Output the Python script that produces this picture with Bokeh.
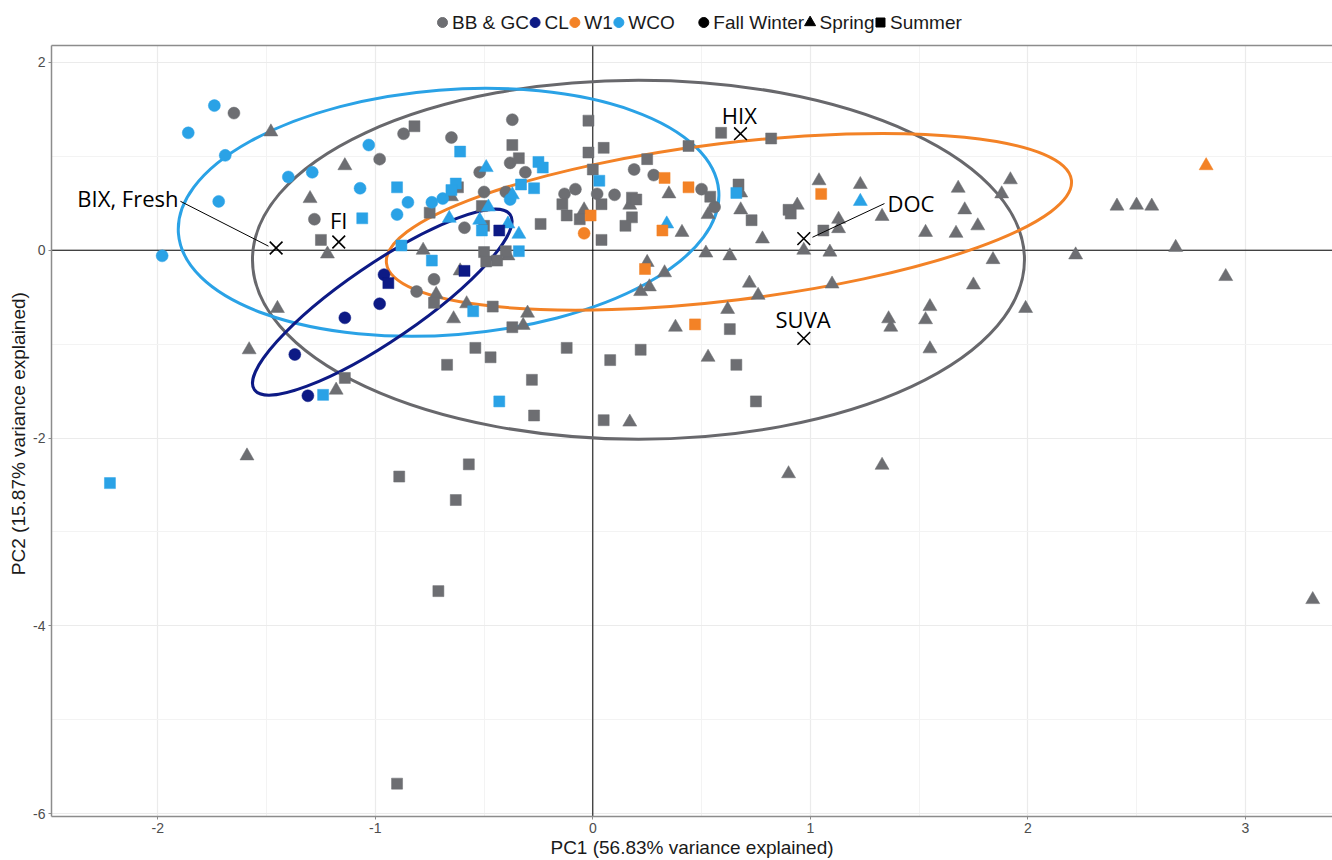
from bokeh.plotting import figure
from bokeh.layouts import column
from bokeh.models import (Span, FixedTicker, LinearAxis, Range1d, ColumnDataSource)
from bokeh.core.properties import value
from bokeh.embed import file_html
from bokeh.resources import INLINE

# ---------------- data ----------------
sites = ["BB & GC", "CL", "W1", "WCO"]
seasons = ["Fall Winter", "Spring", "Summer"]

# BB & GC
bbgc_fw_x = [-1.65, -0.87, -0.98, -1.28, -0.73, -0.81, -0.37, -0.65, -0.38, -0.52, -0.31,
             0.19, 0.28, -0.50, -0.40, -0.13, -0.08, 0.02, 0.10, -0.59, 0.50, 0.56]
bbgc_fw_y = [1.46, 1.24, 0.97, 0.33, -0.31, -0.44, 1.39, 1.20, 0.93, 0.83, 0.83,
             0.86, 0.80, 0.62, 0.62, 0.60, 0.65, 0.60, 0.59, 0.24, 0.65, 0.46]
bbgc_sp_x = [-1.48, -1.14, -1.30, -1.22, -0.78, -0.72, -1.45, -0.65, -0.04, 0.17, 0.35, 0.41,
             -0.61, -0.58, -0.64, -0.30, -0.32, -0.39, 0.25, 0.33, 0.22, 0.26, 0.38, 0.53,
             0.68, 0.68, 0.52, 0.63, 0.78, 1.04, 1.23, 0.94, 1.13, 1.13, 1.33, 0.97, 1.09,
             1.53, 1.68, 1.71, 1.67, 1.77, 1.92, 1.88, 1.84, 2.22, 0.72, 0.76, 1.10, 1.75,
             0.62, 1.36, 1.37, 1.55, 1.53, 1.99, 1.55, 0.53, 0.17, 0.90, 1.33, 2.41, 2.50,
             2.57, 2.68, 2.91, 3.31, -1.58, -1.18, -1.59]
bbgc_sp_y = [1.26, 0.90, 0.55, -0.04, 0.00, -0.47, -0.62, 0.57, 0.43, 0.48, 0.60, 0.19,
             -0.22, -0.57, -0.73, -0.67, -0.80, -0.06, -0.13, -0.24, -0.44, -0.39, -0.82, 0.38,
             0.43, 0.61, -0.03, -0.06, 0.12, 0.74, 0.70, 0.48, 0.33, 0.23, 0.36, 0.00, -0.02,
             0.19, 0.66, 0.43, 0.18, 0.26, 0.75, 0.60, -0.10, -0.05, -0.35, -0.48, -0.36, -0.37,
             -0.63, -0.73, -0.82, -0.60, -0.74, -0.62, -1.05, -1.14, -1.83, -2.38, -2.29, 0.47, 0.48,
             0.47, 0.03, -0.28, -3.72, -1.06, -1.49, -2.19]
bbgc_su_x = [-0.82, -0.75, -1.25, -0.73, -0.02, -0.37, 0.05, -0.02, -0.34, 0.00, 0.25, 0.44,
             -0.62, -0.14, -0.12, -0.06, 0.04, 0.18, 0.20, 0.18, 0.15, -0.51, -0.50, -0.24,
             0.04, -0.50, -0.40, -0.49, -0.44, -0.46, -0.37, 0.59, 0.82, 0.54, 0.67, 0.73,
             0.90, 0.91, 1.06, 0.63, 0.66, 0.75, 0.08, 0.22, 0.05, -1.14, -0.54, -0.47,
             -0.67, -0.12, -0.28, -0.27, -0.57, -0.89, -0.63, -0.71, -0.90]
bbgc_su_y = [1.32, 0.40, 0.11, -0.56, 1.38, 1.12, 1.09, 1.04, 0.98, 0.86, 0.97, 1.11,
             0.67, 0.49, 0.37, 0.33, 0.49, 0.56, 0.54, 0.35, 0.26, 0.47, 0.26, 0.28,
             0.11, -0.02, -0.01, -0.12, -0.11, -0.60, -0.82, 1.25, 1.19, 0.57, 0.70, 0.32,
             0.43, 0.39, 0.21, -0.84, -1.22, -1.61, -1.17, -1.06, -1.81, -1.36, -1.04, -1.14,
             -1.22, -1.04, -1.38, -1.76, -2.28, -2.41, -2.66, -3.63, -5.68]

# WCO
wco_fw_x = [-1.74, -1.86, -1.69, -1.03, -1.40, -1.29, -1.07, -0.85, -0.74, -1.72, -0.90,
            -1.98, -0.69, -0.38]
wco_fw_y = [1.54, 1.25, 1.01, 1.12, 0.78, 0.83, 0.66, 0.51, 0.51, 0.52, 0.38,
            -0.06, 0.55, 0.54]
wco_sp_x = [-0.49, -0.37, -0.48, -0.66, -0.52, -0.39, -0.34, 0.34, 1.23]
wco_sp_y = [0.88, 0.59, 0.46, 0.34, 0.32, 0.28, 0.17, 0.28, 0.52]
wco_su_x = [-0.90, -1.06, -0.88, -0.74, -0.61, -0.25, -0.23, 0.03, -0.63, -0.65, -0.33,
            -0.27, -0.51, -0.34, -0.55, 0.66, -1.24, -0.43, -2.22]
wco_su_y = [0.67, 0.34, 0.05, -0.11, 1.05, 0.94, 0.88, 0.74, 0.71, 0.64, 0.70,
            0.66, 0.21, -0.01, -0.65, 0.61, -1.54, -1.61, -2.48]

# CL
cl_fw_x = [-0.96, -0.98, -1.14, -1.37, -1.31]
cl_fw_y = [-0.26, -0.57, -0.72, -1.11, -1.55]
cl_su_x = [-0.94, -0.43, -0.59]
cl_su_y = [-0.35, 0.21, -0.22]

# W1
w1_fw_x = [-0.04]
w1_fw_y = [0.18]
w1_sp_x = [2.82]
w1_sp_y = [0.90]
w1_su_x = [0.33, 0.44, -0.01, 0.32, 0.24, 0.47, 1.05]
w1_su_y = [0.77, 0.67, 0.37, 0.21, -0.20, -0.79, 0.60]

# confidence ellipses (centre in PC units)
ell_site = ["BB & GC", "WCO", "W1", "CL"]
ell_cx = [0.21, -0.663, 0.626, -0.968]
ell_cy = [-0.101, 0.404, 0.303, -0.553]

# loadings
load_names = ["BIX, Fresh", "FI", "HIX", "DOC", "SUVA"]
load_x = [-1.456, -1.168, 0.679, 0.970, 0.970]
load_y = [0.024, 0.088, 1.241, 0.124, -0.939]
label_x = [-1.905, -1.168, 0.674, 1.355, 0.967]
label_y = [0.553, 0.319, 1.441, 0.500, -0.734]
label_align = ["right", "center", "center", "left", "center"]
seg_x0 = [-1.896, 1.341]
seg_y0 = [0.521, 0.497]
seg_x1 = [-1.491, 1.010]
seg_y1 = [0.043, 0.138]

x_ticks = [-2, -1, 0, 1, 2, 3]
x_minor = [-2.5, -1.5, -0.5, 0.5, 1.5, 2.5, 3.5]
y_ticks = [-6, -4, -2, 0, 2]
y_minor = [-5, -3, -1, 1]
x_title = "PC1 (56.83% variance explained)"
y_title = "PC2 (15.87%  variance explained)"

# ---------------- styles ----------------
site_color = {"BB & GC": "#6D6E72", "CL": "#0D1A85", "W1": "#F38226", "WCO": "#2AA2E6"}
ell_color = {"BB & GC": "#68686C", "CL": "#0D1A85", "W1": "#F38226", "WCO": "#2AA2E6"}
ell_w_px = [772, 542, 690, 310]
ell_h_px = [359, 245, 157, 76]
ell_angle = [0.0, 0.079, 0.121, 0.60]
season_marker = {"Fall Winter": "circle", "Spring": "triangle", "Summer": "square"}
season_size = {"Fall Winter": 12, "Spring": 14, "Summer": 11}
FONT = "Liberation Sans"
BORDER = "#8C8C8C"

W = 1332
LEG_H = 43
MAIN_H = 860 - LEG_H
LEFT = 51
PX_PER_X = 217.5
X0 = -(592.3 - LEFT) / PX_PER_X
XR = Range1d(X0, X0 + (W - LEFT) / PX_PER_X)

p = figure(width=W, height=MAIN_H, x_range=XR, y_range=Range1d(-6.03, 2.18),
           output_backend="svg", toolbar_location=None,
           min_border_left=LEFT, min_border_right=0, min_border_top=2, min_border_bottom=0)
p.outline_line_color = None
p.background_fill_color = "white"

xt = FixedTicker(ticks=x_ticks, minor_ticks=x_minor)
yt = FixedTicker(ticks=y_ticks, minor_ticks=y_minor)
p.xaxis.ticker = xt
p.yaxis.ticker = yt
p.xgrid.ticker = xt
p.ygrid.ticker = yt
p.xaxis.major_label_overrides = {t: str(t) for t in x_ticks}
p.yaxis.major_label_overrides = {t: str(t) for t in y_ticks}
for g in (p.xgrid, p.ygrid):
    g.grid_line_color = "#EBEBEB"
    g.grid_line_width = 1.2
    g.minor_grid_line_color = "#F3F3F3"
    g.minor_grid_line_width = 1

p.xaxis.axis_label = x_title
p.yaxis.axis_label = y_title
for ax in (p.xaxis[0], p.yaxis[0]):
    ax.axis_line_color = BORDER
    ax.axis_line_width = 1.5
    ax.major_tick_line_color = BORDER
    ax.major_tick_out = 3
    ax.major_tick_in = 0
    ax.minor_tick_line_color = None
    ax.major_label_text_font = FONT
    ax.major_label_text_font_size = "14px"
    ax.major_label_text_color = "#4D4D4D"
    ax.major_label_standoff = 2
    ax.axis_label_text_font = FONT
    ax.axis_label_text_font_size = "19px"
    ax.axis_label_text_font_style = "normal"
    ax.axis_label_text_color = "#1A1A1A"
    ax.axis_label_standoff = 1

top_axis = LinearAxis(ticker=FixedTicker(ticks=[]), axis_line_color=BORDER,
                      axis_line_width=1.5, major_tick_line_color=None,
                      minor_tick_line_color=None, major_label_text_font_size="0px",
                      major_label_standoff=0, major_tick_out=0, axis_label=None)
p.add_layout(top_axis, "above")

# zero lines
p.add_layout(Span(location=0, dimension="height", line_color="black", line_width=1, level="underlay"))
p.add_layout(Span(location=0, dimension="width", line_color="black", line_width=1, level="underlay"))

# ellipses
for i, s in enumerate(ell_site):
    p.ellipse(x=[ell_cx[i]], y=[ell_cy[i]], width=[ell_w_px[i]], height=[ell_h_px[i]],
              angle=[ell_angle[i]], width_units="screen", height_units="screen",
              fill_color=None, line_color=ell_color[s], line_width=3)

groups = [
    ("BB & GC", "Fall Winter", bbgc_fw_x, bbgc_fw_y),
    ("BB & GC", "Spring", bbgc_sp_x, bbgc_sp_y),
    ("BB & GC", "Summer", bbgc_su_x, bbgc_su_y),
    ("WCO", "Fall Winter", wco_fw_x, wco_fw_y),
    ("WCO", "Spring", wco_sp_x, wco_sp_y),
    ("WCO", "Summer", wco_su_x, wco_su_y),
    ("CL", "Fall Winter", cl_fw_x, cl_fw_y),
    ("CL", "Summer", cl_su_x, cl_su_y),
    ("W1", "Fall Winter", w1_fw_x, w1_fw_y),
    ("W1", "Spring", w1_sp_x, w1_sp_y),
    ("W1", "Summer", w1_su_x, w1_su_y),
]
for site, season, xs, ys in groups:
    src = ColumnDataSource(dict(x=xs, y=ys))
    p.scatter("x", "y", source=src, marker=season_marker[season], size=season_size[season],
              fill_color=site_color[site], line_color=site_color[site], line_width=0.5)

# loadings
p.segment(x0=seg_x0, y0=seg_y0, x1=seg_x1, y1=seg_y1, line_color="black", line_width=1)
p.scatter(load_x, load_y, marker="x", size=18, line_color="black", line_width=1.6)
for al in ("left", "center", "right"):
    idx = [i for i, a in enumerate(label_align) if a == al]
    p.text(x=[label_x[i] for i in idx], y=[label_y[i] for i in idx],
           text=[load_names[i] for i in idx], text_align=al, text_baseline="middle",
           text_font=value("Open Sans"), text_font_size="22px", text_color="black")

# ---------------- legend strip (compact ggplot-style key) ----------------
ARIAL = {" ": 278, "&": 667, "B": 667, "C": 722, "G": 778, "L": 556, "W": 944, "1": 556,
         "O": 778, "F": 611, "a": 556, "l": 222, "i": 222, "n": 556, "t": 278, "e": 556,
         "r": 333, "S": 667, "p": 556, "g": 556, "u": 556, "m": 833}
LEG_FS = 19


def text_width(s):
    return sum(ARIAL.get(c, 556) for c in s) / 1000 * LEG_FS


leg_labels = sites + seasons
leg_fill = [site_color[s] for s in sites] + ["black"] * len(seasons)
leg_marker = ["circle"] * len(sites) + [season_marker[s] for s in seasons]
leg_size = [10] * len(sites) + [10, 11, 9]

# the strip's frame is aligned with the main frame (starts at LEFT), so map pixels 1:1
lg = figure(width=W, height=LEG_H, x_range=Range1d(LEFT, W), y_range=Range1d(0, LEG_H),
            x_axis_type=None, y_axis_type=None, output_backend="svg", toolbar_location=None,
            min_border=0, min_border_left=LEFT)
lg.outline_line_color = None
lg.grid.visible = False

cursor = 437.0
mx, tx = [], []
for i, lab in enumerate(leg_labels):
    if i == len(sites):
        cursor += 23
    cx = cursor + 5
    mx.append(cx)
    tx.append(cx + 9.5)
    cursor = cx + 9.5 + text_width(lab) + 1
ly = LEG_H - 22
lg.scatter(x=mx, y=[ly] * len(mx), marker=leg_marker, size=leg_size,
           fill_color=leg_fill, line_color=leg_fill)
lg.text(x=tx, y=[ly] * len(tx), text=leg_labels, text_align="left", text_baseline="middle",
        text_font=value(FONT), text_font_size=f"{LEG_FS}px", text_color="#1A1A1A")

layout = column(lg, p, spacing=0)
open("out.html", "w").write(file_html(layout, INLINE))
